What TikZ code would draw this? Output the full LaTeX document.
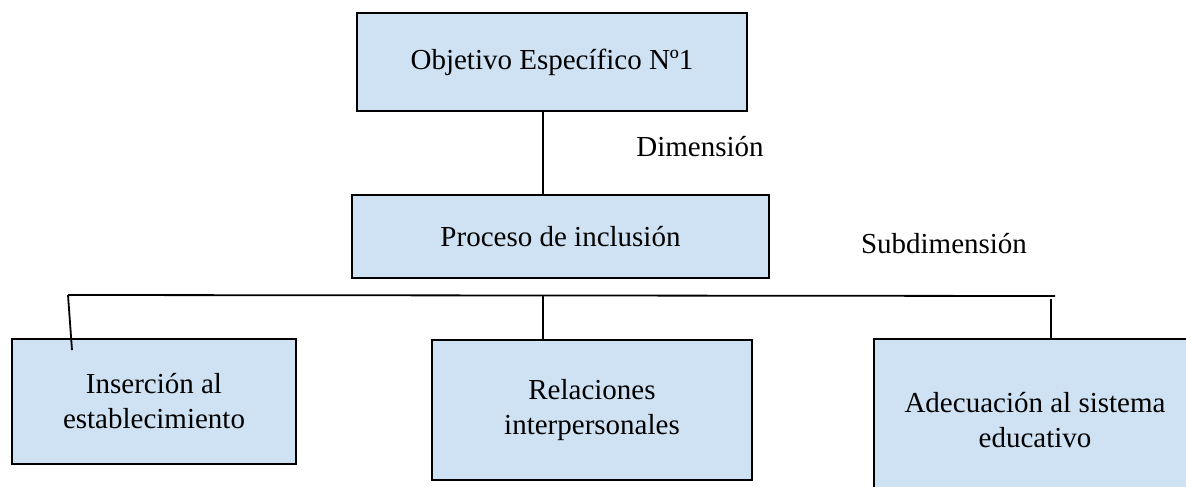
\documentclass[tikz,border=0pt]{standalone}
\usepackage{fontspec}
\setmainfont{Liberation Serif}
\usepackage{tikz}
\usetikzlibrary{positioning}
\definecolor{boxblue}{RGB}{207, 226, 243}

\begin{document}
\begin{tikzpicture}[
  x=1pt, y=-1pt,
  box/.style={rectangle, draw, line width=1.4pt, fill=boxblue, align=center, inner sep=0pt, font=\fontsize{29}{35}\selectfont},
  link/.style={line width=1.8pt},
  tag/.style={font=\fontsize{29}{35}\selectfont},
]
  \useasboundingbox (0,0) rectangle (1186,487);
  \clip (0,0) rectangle (1186,487);

  \node[box, minimum width=390pt, minimum height=98pt] (objetivo) at (552,62) {Objetivo Específico Nº1};
  \node[box, minimum width=417pt, minimum height=83pt] (proceso) at (560.5,236.5) {Proceso de inclusión};
  \node[box, minimum width=284pt, minimum height=125pt] (insercion) at (154,401.5) {Inserción al\\establecimiento};
  \node[box, minimum width=320pt, minimum height=140pt] (relaciones) at (592,410) {Relaciones\\interpersonales};
  \node[box, minimum width=322pt, minimum height=162pt] (adecuacion) at (1035,420) {Adecuación al sistema\\educativo};

  \node[tag] (dimension) at (700,147) {Dimensión};
  \node[tag] (subdimension) at (944,244) {Subdimensión};

  % barra de subdimensiones
  \coordinate (barL) at (68,295);
  \coordinate (barM) at (543,296);
  \coordinate (barR) at (1055,296);
  \coordinate (insTip) at (72,350);
  \coordinate (adeTop) at (1051,299);

  \draw[link] (objetivo.south -| barM) -- (proceso.north -| barM);
  \draw[link] (barL) -- (barR);
  \draw[link] (barL) -- (insTip);
  \draw[link] (barM) -- (relaciones.north -| barM);
  \draw[link] (adeTop) -- (adecuacion.north -| adeTop);
\end{tikzpicture}
\end{document}
